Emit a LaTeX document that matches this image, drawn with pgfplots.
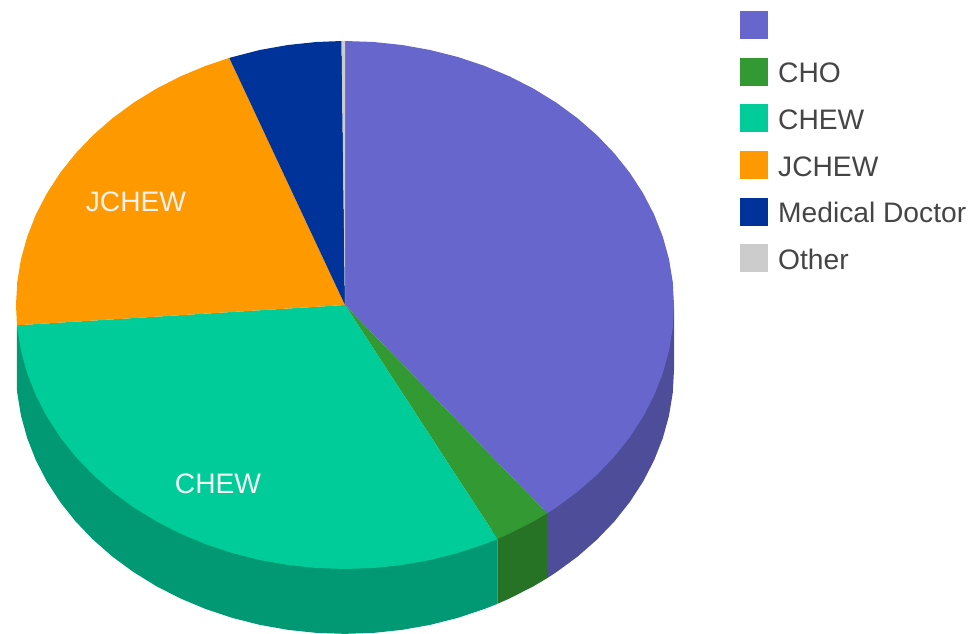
\documentclass[border=0pt]{standalone}
\usepackage{fontspec}
\setmainfont{Liberation Sans}
\usepackage{pgfplots}
\pgfplotsset{compat=1.18}

\definecolor{pPurple}{HTML}{6666CC}
\definecolor{pGreen}{HTML}{339933}
\definecolor{pTeal}{HTML}{00CC99}
\definecolor{pOrange}{HTML}{FF9900}
\definecolor{pNavy}{HTML}{003399}
\definecolor{pGray}{HTML}{CCCCCC}
\definecolor{wPurple}{HTML}{4D4D99}
\definecolor{wGreen}{HTML}{267326}
\definecolor{wTeal}{HTML}{009973}

\begin{document}
\begin{tikzpicture}
  \path (0pt,0pt) rectangle (973pt,633pt);
  \begin{axis}[
        at={(0,0)}, anchor=south west,
        width=973pt, height=633pt, scale only axis,
        hide axis, clip=false,
        xmin=-1.0486, xmax=1.9088,
        ymin=-1.2424, ymax=1.1553,
        font=\fontsize{28.2}{32}\selectfont,
        legend cell align=left,
        legend image code/.code={
            \fill[#1] (0pt,-9pt) rectangle (28pt,19pt);
        },
        legend style={
            at={(0.7605,0.9826)}, anchor=north west,
            draw=none, fill=none, inner sep=0pt,
            text=black!73,
            row sep=13.6pt,
            /tikz/every odd column/.append style={column sep=10pt},
            nodes={inner sep=0pt, text height=20pt, text depth=8pt},
            font=\fontsize{28.2}{32}\selectfont,
        },
    ]
    % side walls, the top faces cover their upper part
    \addplot [forget plot, draw=none, fill=wPurple, yshift=-1.5pt] coordinates {
      (1,0) (1,-.24) (.9962,-.3272) (.9848,-.4136) (.9659,-.4988) (.9397,-.582)
      (.9063,-.6626) (.8660,-.74) (.8192,-.8136) (.7660,-.8828) (.7071,-.9471)
      (.6428,-1.006) (.6143,-1.0291) (.6143,-.7591) } -- cycle;
    \addplot [forget plot, draw=none, fill=wGreen, yshift=-1.5pt] coordinates {
      (.6143,-.7591) (.6143,-1.0291) (.5736,-1.0592) (.5,-1.106)
      (.4633,-1.1262) (.4633,-.8562) } -- cycle;
    \addplot [forget plot, draw=none, fill=wTeal, yshift=-1.5pt] coordinates {
      (.4633,-.8562) (.4633,-1.1262) (.4226,-1.1463) (.3420,-1.1797) (.2588,-1.2059)
      (.1736,-1.2248) (.0872,-1.2362) (0,-1.24) (-.0872,-1.2362) (-.1736,-1.2248)
      (-.2588,-1.2059) (-.3420,-1.1797) (-.4226,-1.1463) (-.5,-1.106) (-.5736,-1.0592)
      (-.6428,-1.006) (-.7071,-.9471) (-.7660,-.8828) (-.8192,-.8136) (-.8660,-.74)
      (-.9063,-.6626) (-.9397,-.582) (-.9659,-.4988) (-.9848,-.4136) (-.9962,-.3272)
      (-.9971,-.3167) (-.9971,-.0767) } -- cycle;

    % top faces in polar form: (angle, radius), shares about 39.5, 2.9, 31.5, 20.5, 5.3, 0.3 %
    \addplot [data cs=polar, draw=none, fill=pPurple] coordinates {
      (0,0) (90,1) (85,1) (80,1) (75,1) (70,1) (65,1) (60,1) (55,1) (50,1) (45,1)
      (40,1) (35,1) (30,1) (25,1) (20,1) (15,1) (10,1) (5,1) (0,1) (-5,1) (-10,1)
      (-15,1) (-20,1) (-25,1) (-30,1) (-35,1) (-40,1) (-45,1) (-50,1) (-52.1,1) } -- cycle;
    \addlegendentry{}
    \addplot [data cs=polar, draw=none, fill=pGreen] coordinates {
      (0,0) (-52.1,1) (-55,1) (-60,1) (-62.4,1) } -- cycle;
    \addlegendentry{CHO}
    \addplot [data cs=polar, draw=none, fill=pTeal] coordinates {
      (0,0) (-62.4,1) (-65,1) (-70,1) (-75,1) (-80,1) (-85,1) (-90,1) (-95,1) (-100,1)
      (-105,1) (-110,1) (-115,1) (-120,1) (-125,1) (-130,1) (-135,1) (-140,1) (-145,1)
      (-150,1) (-155,1) (-160,1) (-165,1) (-170,1) (-175,1) (-175.6,1) } -- cycle;
    \addlegendentry{CHEW}
    \addplot [data cs=polar, draw=none, fill=pOrange] coordinates {
      (0,0) (184.4,1) (180,1) (175,1) (170,1) (165,1) (160,1) (155,1) (150,1) (145,1)
      (140,1) (135,1) (130,1) (125,1) (120,1) (115,1) (110.6,1) } -- cycle;
    \addlegendentry{JCHEW}
    \addplot [data cs=polar, draw=none, fill=pNavy] coordinates {
      (0,0) (110.6,1) (105,1) (100,1) (95,1) (90.6,1) } -- cycle;
    \addlegendentry{Medical Doctor}
    \addplot [data cs=polar, draw=none, fill=pGray] coordinates {
      (0,0) (90.6,1) (90,1) } -- cycle;
    \addlegendentry{Other}

    \node [text=white!95!black] at (axis cs:-.6353,.3902) {JCHEW};
    \node [text=white!95!black] at (axis cs:-.386,-.678) {CHEW};
  \end{axis}
\end{tikzpicture}
\end{document}
